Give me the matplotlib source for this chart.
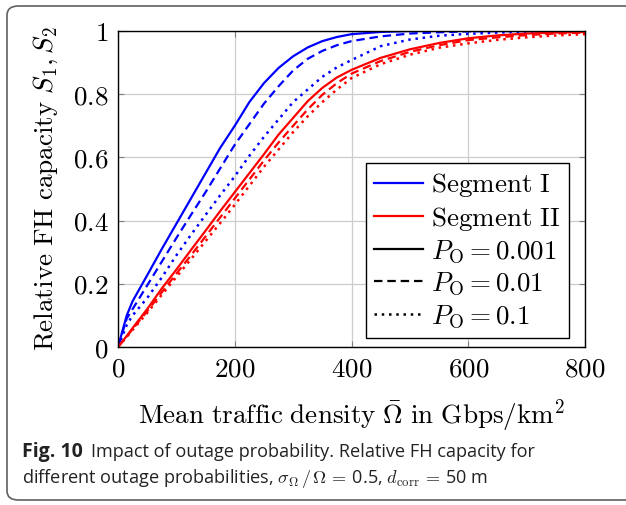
# -*- coding: utf-8 -*-
# Fig. 10 : capacite FH relative en fonction de la densite de trafic moyenne
import matplotlib
matplotlib.use("Agg")
import matplotlib.pyplot as plt
from matplotlib.patches import FancyBboxPatch

plt.rcParams["mathtext.fontset"] = "cm"

# densite de trafic moyenne (Gbps/km^2)
omega = [0, 15, 25, 50, 75, 100, 125, 150, 175, 200, 225, 250, 275, 300, 325,
         350, 375, 400, 450, 500, 550, 600, 650, 700, 750, 800]

# segment I (bleu)
seg1_p001 = [0, 0.10, 0.145, 0.227, 0.31, 0.39, 0.47, 0.55, 0.63, 0.70, 0.775, 0.835, 0.883,
             0.92, 0.948, 0.968, 0.981, 0.99, 0.997, 1.0, 1.0, 1.0, 1.0, 1.0, 1.0, 1.0]
seg1_p01 = [0, 0.09, 0.12, 0.195, 0.27, 0.345, 0.418, 0.49, 0.565, 0.64, 0.705, 0.77, 0.825,
            0.875, 0.912, 0.937, 0.955, 0.968, 0.983, 0.992, 0.996, 0.999, 1.0, 1.0, 1.0, 1.0]
seg1_p1 = [0, 0.07, 0.10, 0.155, 0.22, 0.29, 0.355, 0.418, 0.48, 0.54, 0.605, 0.665, 0.72,
           0.775, 0.815, 0.855, 0.885, 0.908, 0.952, 0.973, 0.985, 0.991, 0.995, 0.998, 1.0, 1.0]

# segment II (rouge)
seg2_p001 = [0, 0.035, 0.06, 0.12, 0.185, 0.245, 0.307, 0.368, 0.43, 0.49, 0.55, 0.61, 0.672,
             0.725, 0.778, 0.82, 0.853, 0.877, 0.915, 0.942, 0.962, 0.977, 0.986, 0.992, 0.995, 0.997]
seg2_p01 = [0, 0.033, 0.057, 0.113, 0.173, 0.232, 0.29, 0.35, 0.41, 0.47, 0.53, 0.59, 0.647,
            0.70, 0.752, 0.798, 0.835, 0.865, 0.905, 0.934, 0.955, 0.971, 0.98, 0.987, 0.992, 0.995]
seg2_p1 = [0, 0.032, 0.054, 0.108, 0.165, 0.222, 0.278, 0.335, 0.392, 0.45, 0.51, 0.57, 0.625,
           0.68, 0.73, 0.775, 0.815, 0.851, 0.895, 0.925, 0.947, 0.961, 0.972, 0.98, 0.986, 0.99]

xticks = [0, 200, 400, 600, 800]
yticks = [0, 0.2, 0.4, 0.6, 0.8, 1]
ytick_labels = ["0", "0.2", "0.4", "0.6", "0.8", "1"]

DASHED = (0, (3.8, 2.2))
DOTTED = (0, (1.0, 1.9))
LW = 1.6
FS = 19.5

fig = plt.figure(figsize=(6.26, 5.05), dpi=100)

# cadre arrondi de la figure (bord droit hors image)
cadre = FancyBboxPatch((7 / 626, 5 / 505), 640 / 626, 494 / 505,
                       boxstyle="round,pad=0,rounding_size=0.018",
                       transform=fig.transFigure, facecolor="none",
                       edgecolor="#606060", linewidth=1.2)
fig.patches.append(cadre)

ax = fig.add_axes([118 / 626, 1 - 347 / 505, 467 / 626, 316 / 505])

ax.plot(omega, seg1_p001, color="blue", linewidth=LW)
ax.plot(omega, seg1_p01, color="blue", linewidth=LW, linestyle=DASHED)
ax.plot(omega, seg1_p1, color="blue", linewidth=LW + 0.2, linestyle=DOTTED)
ax.plot(omega, seg2_p001, color="red", linewidth=LW)
ax.plot(omega, seg2_p01, color="red", linewidth=LW, linestyle=DASHED)
ax.plot(omega, seg2_p1, color="red", linewidth=LW + 0.2, linestyle=DOTTED)

ax.set_xlim(0, 800)
ax.set_ylim(0, 1)
ax.set_xticks(xticks)
ax.set_xticklabels(["$%d$" % v for v in xticks], fontsize=FS)
ax.set_yticks(yticks)
ax.set_yticklabels(["$%s$" % s for s in ytick_labels], fontsize=FS)
ax.tick_params(direction="in", top=True, right=True, length=4, color="#808080", pad=7)
ax.grid(True, color="#cccccc", linewidth=0.9)
ax.set_axisbelow(True)
for sp in ax.spines.values():
    sp.set_linewidth(1.0)

ax.set_xlabel(r"$\mathrm{Mean\ traffic\ density}\ \bar{\Omega}\ \mathrm{in\ Gbps/km}^{2}$",
              fontsize=FS, labelpad=11)
ax.set_ylabel(r"$\mathrm{Relative\ FH\ capacity}\ S_1, S_2$", fontsize=FS, labelpad=9)

# legende : couleurs = segments, styles = probabilites de coupure
handles = [
    plt.Line2D([], [], color="blue", linewidth=LW),
    plt.Line2D([], [], color="red", linewidth=LW),
    plt.Line2D([], [], color="black", linewidth=LW),
    plt.Line2D([], [], color="black", linewidth=LW, linestyle=DASHED),
    plt.Line2D([], [], color="black", linewidth=LW + 0.2, linestyle=DOTTED),
]
labels = [
    r"$\mathrm{Segment\ I}$",
    r"$\mathrm{Segment\ II}$",
    r"$P_{\mathrm{O}} = 0.001$",
    r"$P_{\mathrm{O}} = 0.01$",
    r"$P_{\mathrm{O}} = 0.1$",
]
leg = ax.legend(handles, labels, loc="upper left", bbox_to_anchor=(0.531, 0.582),
                borderaxespad=0, fontsize=FS, fancybox=False, edgecolor="black",
                framealpha=1, handlelength=1.8, handletextpad=0.3, labelspacing=0.2,
                borderpad=0.3)
leg.get_frame().set_linewidth(1.0)

# legende de la figure
cap_font = "Open Sans"
cap_col = "#222222"
fig.text(22 / 626, 1 - 452 / 505, "Fig. 10", fontsize=14, fontweight="bold",
         family=cap_font, va="center", ha="left", color=cap_col)
fig.text(91 / 626, 1 - 452 / 505,
         "Impact of outage probability. Relative FH capacity for",
         fontsize=13.1, family=cap_font, va="center", ha="left", color=cap_col)
fig.text(22 / 626, 1 - 478 / 505,
         r"different outage probabilities, $\sigma_{\Omega}\,/\,\Omega\, =\,$0.5, $d_{\mathrm{corr}}\, =\,$50 m",
         fontsize=13.1, family=cap_font, va="center", ha="left", color=cap_col,
         math_fontfamily="cm")

fig.savefig("out.png", dpi=100)
